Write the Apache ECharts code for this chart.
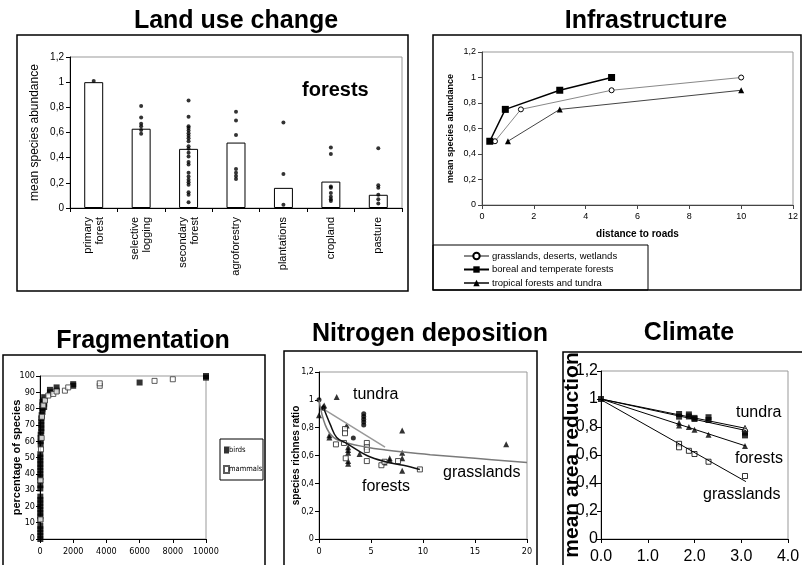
<!DOCTYPE html>
<html><head><meta charset="utf-8">
<script src="https://cdn.jsdelivr.net/npm/echarts@6/dist/echarts.min.js"></script>
<style>html,body{margin:0;padding:0;background:#fff}#c{width:802px;height:565px}</style>
</head><body><div id="c"></div>
<script>
// ---------- DATA ----------
// Land use change
const landCategories = ['primary\nforest','selective\nlogging','secondary\nforest','agroforestry','plantations','cropland','pasture'];
const landMeans = [1.0, 0.63, 0.47, 0.52, 0.16, 0.21, 0.105];
const landPrimary = [1.01];
const landSelective = [0.81, 0.72, 0.67, 0.65, 0.62, 0.59];
const landSecondary = [0.855, 0.725, 0.65, 0.635, 0.615, 0.595, 0.575, 0.555, 0.53, 0.49, 0.47, 0.44, 0.41, 0.365, 0.345, 0.28, 0.25, 0.225, 0.205, 0.185, 0.125, 0.105, 0.045];
const landAgro = [0.765, 0.695, 0.58, 0.31, 0.28, 0.255, 0.23];
const landPlantations = [0.68, 0.27, 0.025];
const landCropland = [0.48, 0.43, 0.17, 0.16, 0.12, 0.09, 0.07, 0.055];
const landPasture = [0.475, 0.18, 0.16, 0.105, 0.07, 0.035];

// Infrastructure (distance to roads)
const infraGrassX = [0.5, 1.5, 5, 10];
const infraGrassY = [0.5, 0.75, 0.9, 1.0];
const infraBorealX = [0.3, 0.9, 3, 5];
const infraBorealY = [0.5, 0.75, 0.9, 1.0];
const infraTropX = [1, 3, 10];
const infraTropY = [0.5, 0.75, 0.9];

// Fragmentation
const fragBirds = [[20,0],[20,2],[20,4],[20,6],[20,8],[20,12],[20,14],[20,16],[20,18],[20,20],[20,22],[20,24],[20,26],[20,31],[20,33],[20,36],[20,38],[20,40],[20,42],[20,44],[20,46],[20,48],[20,50],[20,52],
  [40,58],[40,60],[40,62],[40,64],[80,66],[80,68],[80,70],[80,72],[80,74],[100,76],[150,78],[150,80],[150,82],[150,84],[250,81],[250,83],[250,85],[250,87],
  [600,90],[600,91.5],[1000,91],[1000,93],[2000,94],[2000,95],[6000,96],[10000,99],[10000,100]];
const fragMammals = [[30,12],[30,36],[60,55],[100,62],[120,75],[200,82],[300,85],[500,88],[800,89],[1000,90.5],[1500,91],[1700,93],[3600,94],[3600,95.5],[6900,97],[8000,98]];

// Nitrogen deposition
const nGrassCurve = [[0,1.0],[0.6,0.82],[1.4,0.73],[2.7,0.69],[4.6,0.66],[6.4,0.64],[8.1,0.625],[10.7,0.606],[15,0.58],[20,0.55]];
const nTundraLine = [[0.4,0.935],[6.35,0.66]];
const nForestCurve = [[0.4,0.95],[1.1,0.82],[1.7,0.73],[2.7,0.685],[4.6,0.60],[6.5,0.553],[8.1,0.53],[9.7,0.50]];
const nTriangles = [[0,0.89],[0.4,0.95],[0.5,0.96],[1.7,1.02],[1.0,0.73],[1.0,0.745],[2.66,0.815],[2.8,0.64],[2.8,0.62],[2.8,0.66],[2.8,0.54],[2.8,0.56],[3.9,0.61],[6.3,0.55],[6.8,0.565],[6.8,0.58],[8.0,0.78],[8.0,0.62],[8.0,0.58],[8.0,0.49],[18,0.68]];
const nSquares = [[1.63,0.68],[2.5,0.79],[2.5,0.76],[2.4,0.69],[2.57,0.58],[4.6,0.69],[4.6,0.66],[4.6,0.64],[4.6,0.56],[6.0,0.53],[6.3,0.555],[7.6,0.56],[9.7,0.50]];
const nCircles = [[0,1.0],[0.4,0.94],[3.3,0.725],[4.3,0.82],[4.3,0.84],[4.3,0.86],[4.3,0.88],[4.3,0.9]];

// Climate
const cTundraA = [[0,1.0],[3.1,0.79]];
const cTundraB = [[0,1.0],[3.1,0.775]];
const cForest = [[0,1.0],[3.1,0.664]];
const cGrass = [[0,0.995],[3.1,0.41]];
const cSquares = [[0,1.0],[1.67,0.893],[1.67,0.874],[1.88,0.89],[1.88,0.875],[2.0,0.857],[2.0,0.865],[2.3,0.87],[2.3,0.85],[3.08,0.76],[3.08,0.74]];
const cTriangles = [[1.67,0.83],[1.67,0.81],[1.88,0.80],[2.0,0.78],[2.3,0.745],[3.08,0.664]];
const cOpenSquares = [[1.67,0.68],[1.67,0.655],[1.88,0.63],[2.0,0.607],[2.3,0.552],[3.08,0.45]];
const cOpenTriangles = [[3.08,0.79]];

// ---------- CHART ----------
const F = '"Liberation Sans", Arial, sans-serif';
const N = '"Liberation Sans Narrow", "DejaVu Sans Condensed", "Liberation Sans", sans-serif';
const comma = v => String(Math.round(v * 10) / 10).replace('.', ',');
const plain = v => String(v);
const zip = (xs, ys) => xs.map((x, i) => [x, ys[i]]);
const landLists = [landPrimary, landSelective, landSecondary, landAgro, landPlantations, landCropland, landPasture];
const landDots = [];
landLists.forEach((arr, i) => arr.forEach(v => landDots.push([i, v])));

function gridOf(l, t, w, h) {
  return {left: l, top: t, width: w, height: h, show: true, borderColor: '#999', borderWidth: 1,
          containLabel: false, outerBoundsMode: 'none'};
}
function valAxis(gi, min, max, interval, o) {
  o = o || {};
  return Object.assign({
    type: 'value', gridIndex: gi, min: min, max: max, interval: interval,
    axisLine: {show: true, onZero: false, lineStyle: {color: o.lineColor || '#000', width: 1}},
    axisTick: {show: true, length: 4, lineStyle: {color: o.lineColor || '#000'}},
    splitLine: {show: false},
    axisLabel: {color: '#000', fontSize: o.fontSize || 10, fontFamily: o.font || F, margin: o.margin || 6, formatter: o.formatter || plain},
    nameLocation: 'middle', nameMoveOverlap: false
  }, o.extra || {});
}

const option = {
  animation: false,
  backgroundColor: '#fff',
  grid: [
    gridOf(70, 57, 332, 151),
    gridOf(482, 52, 311, 153),
    gridOf(40, 376, 166, 163),
    gridOf(319, 372, 208, 167),
    gridOf(601, 371, 187, 168)
  ],
  xAxis: [
    {type: 'category', gridIndex: 0, data: landCategories,
     axisLine: {show: true, lineStyle: {color: '#000'}},
     axisTick: {show: true, interval: 0, length: 4, lineStyle: {color: '#000'}},
     axisLabel: {interval: 0, rotate: 90, fontSize: 11, color: '#000', fontFamily: F, margin: 9, lineHeight: 12},
     splitLine: {show: false}},
    valAxis(1, 0, 12, 2, {fontSize: 9, lineColor: '#444', margin: 7,
      extra: {name: 'distance to roads', nameGap: 24, nameTextStyle: {fontWeight: 'bold', fontSize: 10, fontFamily: F, color: '#000'}}}),
    valAxis(2, 0, 10000, 2000, {fontSize: 9, font: N, margin: 8}),
    valAxis(3, 0, 20, 5, {fontSize: 9, font: N, margin: 8}),
    valAxis(4, 0, 4, 1, {fontSize: 16, margin: 10, formatter: v => v.toFixed(1)})
  ],
  yAxis: [
    valAxis(0, 0, 1.2, 0.2, {fontSize: 10, formatter: comma,
      extra: {name: 'mean species abundance', nameGap: 29, nameTextStyle: {fontSize: 12, fontFamily: F, color: '#000'}}}),
    valAxis(1, 0, 1.2, 0.2, {fontSize: 9, lineColor: '#444', formatter: comma,
      extra: {name: 'mean species abundance', nameGap: 27, nameTextStyle: {fontSize: 9, fontWeight: 'bold', fontFamily: F, color: '#000'}}}),
    valAxis(2, 0, 100, 10, {fontSize: 9, font: N, margin: 5,
      extra: {name: 'percentage of species', nameGap: 18, nameTextStyle: {fontSize: 11, fontWeight: 'bold', fontFamily: F, color: '#000'}}}),
    valAxis(3, 0, 1.2, 0.2, {fontSize: 9, font: N, margin: 5, formatter: comma,
      extra: {name: 'species richnes ratio', nameGap: 18, nameTextStyle: {fontSize: 10, fontWeight: 'bold', fontFamily: F, color: '#000'}}}),
    valAxis(4, 0, 1.2, 0.2, {fontSize: 16, formatter: comma, margin: 3,
      extra: {name: 'mean area reduction', nameGap: 18, nameTextStyle: {fontSize: 21, fontWeight: 'bold', fontFamily: F, color: '#000'}}})
  ],
  legend: [
    {data: ['grasslands, deserts, wetlands', 'boreal and temperate forests', 'tropical forests and tundra'],
     orient: 'vertical', left: 463, top: 251, itemWidth: 25, itemHeight: 8, itemGap: 3.5, padding: 0,
     textStyle: {fontSize: 9.5, fontFamily: F, color: '#000', padding: [0, 0, 0, -2]}, selectedMode: false},
    {data: ['birds', 'mammals'], orient: 'vertical', left: 223, top: 446, itemWidth: 5, itemHeight: 7, itemGap: 11, padding: 0,
     textStyle: {fontSize: 7.5, fontFamily: N, color: '#000', padding: [0, 0, 0, -5]}, selectedMode: false}
  ],
  graphic: [
    {type: 'rect', shape: {x: 17, y: 35, width: 391, height: 256}, style: {fill: 'none', stroke: '#000', lineWidth: 1.5}},
    {type: 'rect', shape: {x: 433, y: 35, width: 368, height: 255}, style: {fill: 'none', stroke: '#000', lineWidth: 1.5}},
    {type: 'rect', shape: {x: 433, y: 245, width: 215, height: 45}, style: {fill: 'none', stroke: '#000', lineWidth: 1}},
    {type: 'rect', shape: {x: 3, y: 355, width: 262, height: 215}, style: {fill: 'none', stroke: '#000', lineWidth: 1.5}},
    {type: 'rect', shape: {x: 220, y: 439, width: 43, height: 41}, style: {fill: 'none', stroke: '#000', lineWidth: 1}},
    {type: 'rect', shape: {x: 284, y: 351, width: 253, height: 220}, style: {fill: 'none', stroke: '#000', lineWidth: 1.5}},
    {type: 'rect', shape: {x: 563, y: 352, width: 245, height: 220}, style: {fill: 'none', stroke: '#000', lineWidth: 1.5}},
    // titles
    {type: 'text', x: 236, y: 21, style: {text: 'Land use change', font: 'bold 25px "Liberation Sans", Arial', fill: '#000', align: 'center', verticalAlign: 'middle', textAlign: 'center', textVerticalAlign: 'middle'}},
    {type: 'text', x: 646, y: 21, style: {text: 'Infrastructure', font: 'bold 25px "Liberation Sans", Arial', fill: '#000', align: 'center', verticalAlign: 'middle', textAlign: 'center', textVerticalAlign: 'middle'}},
    {type: 'text', x: 143, y: 341, style: {text: 'Fragmentation', font: 'bold 25px "Liberation Sans", Arial', fill: '#000', align: 'center', verticalAlign: 'middle', textAlign: 'center', textVerticalAlign: 'middle'}},
    {type: 'text', x: 430, y: 334, style: {text: 'Nitrogen deposition', font: 'bold 25px "Liberation Sans", Arial', fill: '#000', align: 'center', verticalAlign: 'middle', textAlign: 'center', textVerticalAlign: 'middle'}},
    {type: 'text', x: 689, y: 333, style: {text: 'Climate', font: 'bold 25px "Liberation Sans", Arial', fill: '#000', align: 'center', verticalAlign: 'middle', textAlign: 'center', textVerticalAlign: 'middle'}},
    // annotations
    {type: 'text', x: 302, y: 90, style: {text: 'forests', font: 'bold 20px "Liberation Sans", Arial', fill: '#000', verticalAlign: 'middle', textVerticalAlign: 'middle'}},
    {type: 'text', x: 353, y: 395, style: {text: 'tundra', font: '16px "Liberation Sans", Arial', fill: '#000', verticalAlign: 'middle', textVerticalAlign: 'middle'}},
    {type: 'text', x: 443, y: 473, style: {text: 'grasslands', font: '16px "Liberation Sans", Arial', fill: '#000', verticalAlign: 'middle', textVerticalAlign: 'middle'}},
    {type: 'text', x: 362, y: 487, style: {text: 'forests', font: '16px "Liberation Sans", Arial', fill: '#000', verticalAlign: 'middle', textVerticalAlign: 'middle'}},
    {type: 'text', x: 736, y: 413, style: {text: 'tundra', font: '16px "Liberation Sans", Arial', fill: '#000', verticalAlign: 'middle', textVerticalAlign: 'middle'}},
    {type: 'text', x: 735, y: 459, style: {text: 'forests', font: '16px "Liberation Sans", Arial', fill: '#000', verticalAlign: 'middle', textVerticalAlign: 'middle'}},
    {type: 'text', x: 703, y: 495, style: {text: 'grasslands', font: '16px "Liberation Sans", Arial', fill: '#000', verticalAlign: 'middle', textVerticalAlign: 'middle'}}
  ],
  series: [
    // Land use
    {type: 'bar', name: 'mean', xAxisIndex: 0, yAxisIndex: 0, data: landMeans, barWidth: '40%',
     itemStyle: {color: '#fff', borderColor: '#000', borderWidth: 1}},
    {type: 'scatter', name: 'studies', xAxisIndex: 0, yAxisIndex: 0, data: landDots, symbol: 'circle', symbolSize: 4,
     itemStyle: {color: '#000'}, clip: false, z: 5},
    // Infrastructure
    {type: 'line', name: 'grasslands, deserts, wetlands', xAxisIndex: 1, yAxisIndex: 1, data: zip(infraGrassX, infraGrassY),
     symbol: 'circle', symbolSize: 5, lineStyle: {color: '#888', width: 1},
     itemStyle: {color: '#fff', borderColor: '#000', borderWidth: 1}},
    {type: 'line', name: 'boreal and temperate forests', xAxisIndex: 1, yAxisIndex: 1, data: zip(infraBorealX, infraBorealY),
     symbol: 'rect', symbolSize: 7, lineStyle: {color: '#000', width: 1.5}, itemStyle: {color: '#000'}},
    {type: 'line', name: 'tropical forests and tundra', xAxisIndex: 1, yAxisIndex: 1, data: zip(infraTropX, infraTropY),
     symbol: 'triangle', symbolSize: 6, lineStyle: {color: '#444', width: 1}, itemStyle: {color: '#000'}},
    // Fragmentation
    {type: 'scatter', name: 'birds', xAxisIndex: 2, yAxisIndex: 2, data: fragBirds, symbol: 'rect', symbolSize: 6,
     itemStyle: {color: '#000'}, clip: false},
    {type: 'scatter', name: 'mammals', xAxisIndex: 2, yAxisIndex: 2, data: fragMammals, symbol: 'rect', symbolSize: 5,
     itemStyle: {color: '#fff', borderColor: '#333', borderWidth: 1}, clip: false},
    // Nitrogen
    {type: 'line', name: 'N grasslands', xAxisIndex: 3, yAxisIndex: 3, data: nGrassCurve, smooth: 0.4, showSymbol: false,
     lineStyle: {color: '#7a7a7a', width: 1.5}},
    {type: 'line', name: 'N tundra', xAxisIndex: 3, yAxisIndex: 3, data: nTundraLine, showSymbol: false,
     lineStyle: {color: '#999', width: 1.5}},
    {type: 'line', name: 'N forests', xAxisIndex: 3, yAxisIndex: 3, data: nForestCurve, smooth: 0.4, showSymbol: false,
     lineStyle: {color: '#111', width: 1.5}},
    {type: 'scatter', name: 'N triangles', xAxisIndex: 3, yAxisIndex: 3, data: nTriangles, symbol: 'triangle', symbolSize: 6,
     itemStyle: {color: '#000'}, clip: false},
    {type: 'scatter', name: 'N squares', xAxisIndex: 3, yAxisIndex: 3, data: nSquares, symbol: 'rect', symbolSize: 5,
     itemStyle: {color: '#fff', borderColor: '#222', borderWidth: 1}, clip: false},
    {type: 'scatter', name: 'N circles', xAxisIndex: 3, yAxisIndex: 3, data: nCircles, symbol: 'circle', symbolSize: 5,
     itemStyle: {color: '#000'}, clip: false},
    // Climate
    {type: 'line', name: 'C tundra a', xAxisIndex: 4, yAxisIndex: 4, data: cTundraA, showSymbol: false, lineStyle: {color: '#000', width: 1}},
    {type: 'line', name: 'C tundra b', xAxisIndex: 4, yAxisIndex: 4, data: cTundraB, showSymbol: false, lineStyle: {color: '#000', width: 1}},
    {type: 'line', name: 'C forests', xAxisIndex: 4, yAxisIndex: 4, data: cForest, showSymbol: false, lineStyle: {color: '#000', width: 1}},
    {type: 'line', name: 'C grasslands', xAxisIndex: 4, yAxisIndex: 4, data: cGrass, showSymbol: false, lineStyle: {color: '#000', width: 1}},
    {type: 'scatter', name: 'C squares', xAxisIndex: 4, yAxisIndex: 4, data: cSquares, symbol: 'rect', symbolSize: 6,
     itemStyle: {color: '#000'}, clip: false},
    {type: 'scatter', name: 'C triangles', xAxisIndex: 4, yAxisIndex: 4, data: cTriangles, symbol: 'triangle', symbolSize: 6,
     itemStyle: {color: '#000'}, clip: false},
    {type: 'scatter', name: 'C open squares', xAxisIndex: 4, yAxisIndex: 4, data: cOpenSquares, symbol: 'rect', symbolSize: 5,
     itemStyle: {color: '#fff', borderColor: '#000', borderWidth: 1}, clip: false},
    {type: 'scatter', name: 'C open triangles', xAxisIndex: 4, yAxisIndex: 4, data: cOpenTriangles, symbol: 'triangle', symbolSize: 6,
     itemStyle: {color: '#fff', borderColor: '#000', borderWidth: 1}, clip: false}
  ]
};
const chart = echarts.init(document.getElementById('c'));
chart.setOption(option);
</script>
</body></html>
